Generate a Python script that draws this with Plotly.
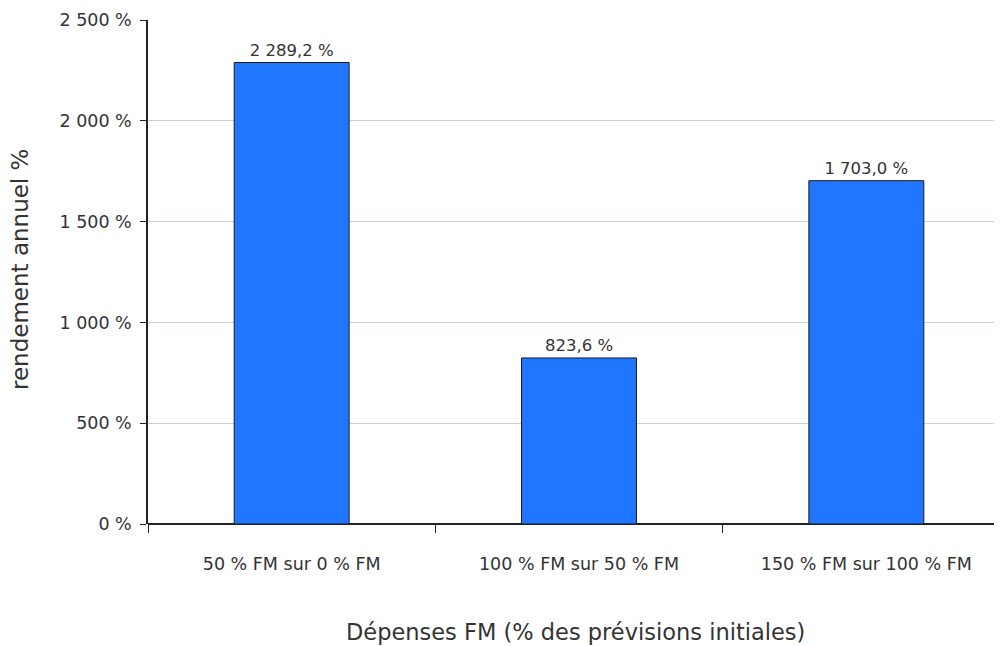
import plotly.graph_objects as go

categories = ["50 % FM sur 0 % FM", "100 % FM sur 50 % FM", "150 % FM sur 100 % FM"]
values = [2289.2, 823.6, 1703.0]
value_labels = ["2 289,2 %", "823,6 %", "1 703,0 %"]
y_tick_vals = [0, 500, 1000, 1500, 2000, 2500]
y_tick_text = ["0 %", "500 %", "1 000 %", "1 500 %", "2 000 %", "2 500 %"]

FONT = "DejaVu Sans"
TXT = "#333333"

# page body has 8px margin: figure coords = screen coords - 8
L, T = 140, 12
PLOT_BOTTOM = 516
H = 646
fig = go.Figure()
fig.add_trace(go.Bar(
    x=categories, y=values, width=0.4,
    marker=dict(color="#2176ff", line=dict(color="#1a1a1a", width=1)),
    text=value_labels, textposition="outside", cliponaxis=False,
    textfont=dict(family=FONT, size=16.5, color=TXT),
))

plot_h = PLOT_BOTTOM - T
plot_w = 1002 - L
fig.update_layout(
    width=1002, height=H,
    margin=dict(l=L, r=0, t=T, b=H - PLOT_BOTTOM),
    paper_bgcolor="white", plot_bgcolor="white",
    showlegend=False,
    font=dict(family=FONT, size=17, color=TXT),
    xaxis=dict(
        range=[-0.5, 2.5], tickson="boundaries", ticks="outside", ticklen=8,
        tickcolor="#222", showgrid=False, showline=False, zeroline=False,
        ticklabelstandoff=27,
        tickfont=dict(family=FONT, size=17.5, color=TXT),
    ),
    yaxis=dict(
        range=[0, 2500], tickvals=y_tick_vals, ticktext=y_tick_text,
        ticks="outside", ticklen=6, tickcolor="#222",
        showline=True, linecolor="#222", linewidth=1.5,
        showgrid=True, gridcolor="#c8d2d2", gridwidth=1,
        zeroline=True, zerolinecolor="#222", zerolinewidth=2,
        ticklabelstandoff=5,
        tickfont=dict(family=FONT, size=17.5, color=TXT),
    ),
    annotations=[
        dict(text="Dépenses FM (% des prévisions initiales)", xref="paper", yref="paper",
             x=(575 - 8 - L) / plot_w, y=-(632 - 8 - PLOT_BOTTOM) / plot_h, showarrow=False,
             font=dict(family=FONT, size=22.5, color=TXT), xanchor="center", yanchor="middle"),
        dict(text="rendement annuel %", xref="paper", yref="paper",
             x=-(L - (20 - 8)) / plot_w, y=(PLOT_BOTTOM - (270 - 8)) / plot_h, showarrow=False,
             textangle=-90,
             font=dict(family=FONT, size=23, color=TXT), xanchor="center", yanchor="middle"),
    ],
)

fig.write_html("out.html")
